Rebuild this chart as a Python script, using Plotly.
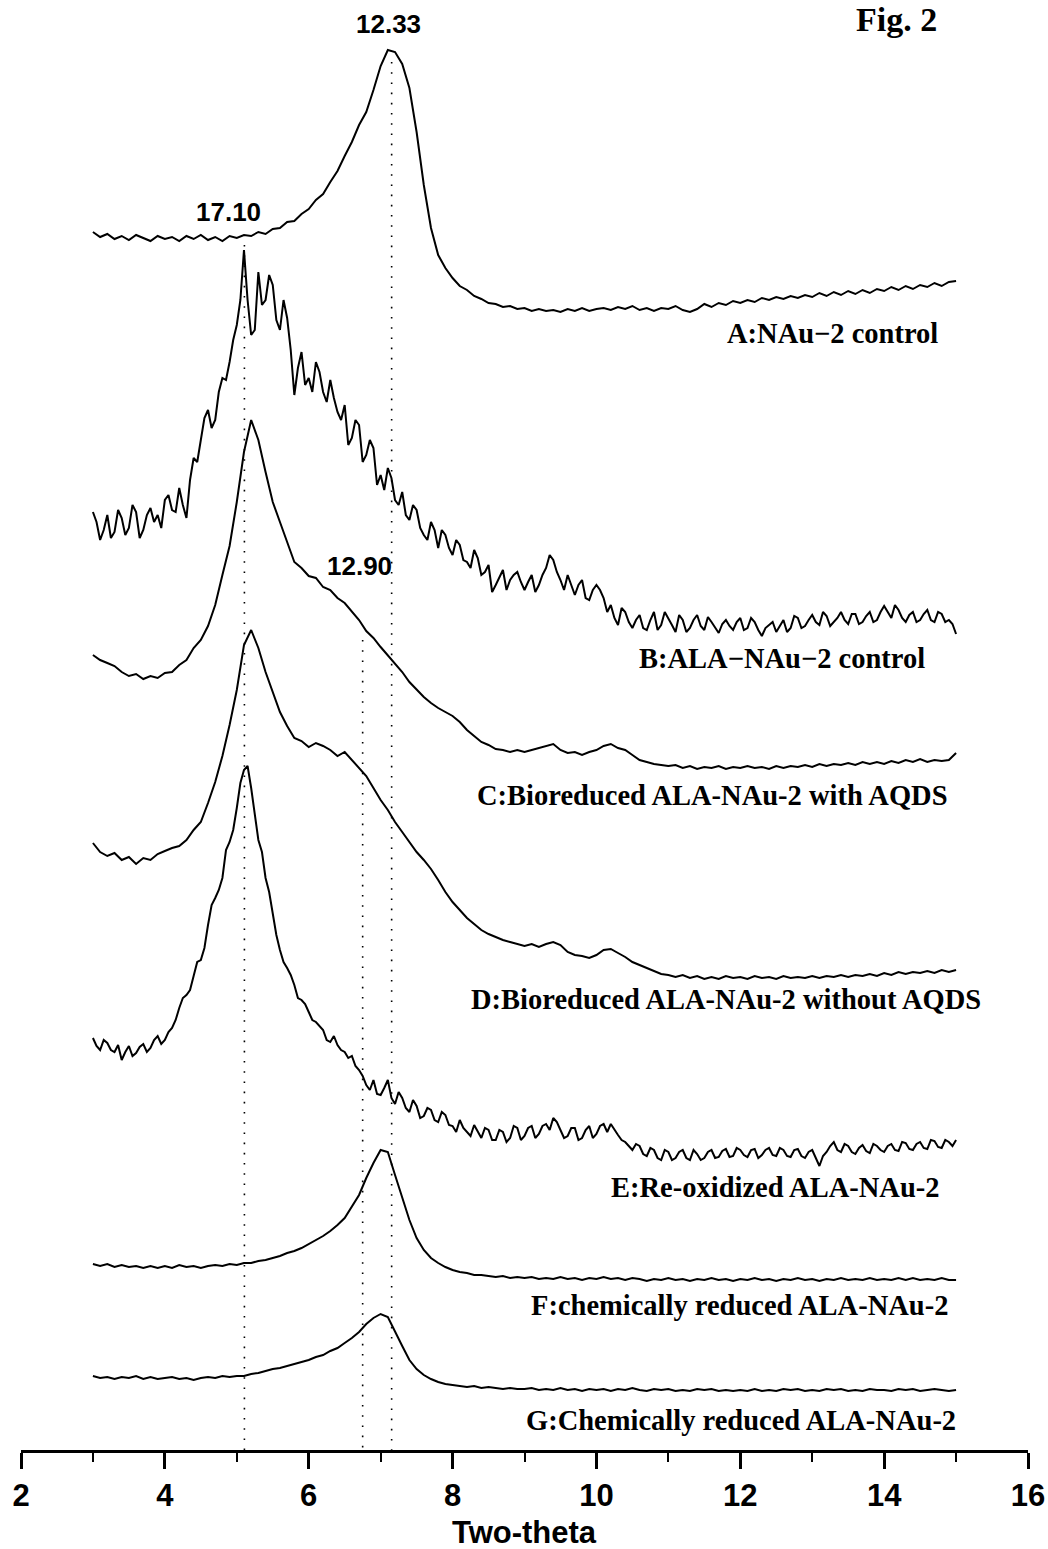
import plotly.graph_objects as go

# 2-theta sampling positions (degrees)
TWO_THETA = [
    3.0, 3.1, 3.2, 3.3, 3.4, 3.5, 3.6, 3.7, 3.8, 3.9,
    4.0, 4.1, 4.2, 4.3, 4.4, 4.5, 4.6, 4.7, 4.8, 4.9,
    5.0, 5.1, 5.2, 5.3, 5.4, 5.5, 5.6, 5.7, 5.8, 5.9,
    6.0, 6.1, 6.2, 6.3, 6.4, 6.5, 6.6, 6.7, 6.8, 6.9,
    7.0, 7.1, 7.2, 7.3, 7.4, 7.5, 7.6, 7.7, 7.8, 7.9,
    8.0, 8.1, 8.2, 8.3, 8.4, 8.5, 8.6, 8.7, 8.8, 8.9,
    9.0, 9.1, 9.2, 9.3, 9.4, 9.5, 9.6, 9.7, 9.8, 9.9,
    10.0, 10.1, 10.2, 10.3, 10.4, 10.5, 10.6, 10.7, 10.8, 10.9,
    11.0, 11.1, 11.2, 11.3, 11.4, 11.5, 11.6, 11.7, 11.8, 11.9,
    12.0, 12.1, 12.2, 12.3, 12.4, 12.5, 12.6, 12.7, 12.8, 12.9,
    13.0, 13.1, 13.2, 13.3, 13.4, 13.5, 13.6, 13.7, 13.8, 13.9,
    14.0, 14.1, 14.2, 14.3, 14.4, 14.5, 14.6, 14.7, 14.8, 14.9,
    15.0,
]
# extra in-between sampling positions used for the two noisiest scans
TWO_THETA_MID = [
    3.05, 3.15, 3.25, 3.35, 3.45, 3.55, 3.65, 3.75, 3.85, 3.95,
    4.05, 4.15, 4.25, 4.35, 4.45, 4.55, 4.65, 4.75, 4.85, 4.95,
    5.05, 5.15, 5.25, 5.35, 5.45, 5.55, 5.65, 5.75, 5.85, 5.95,
    6.05, 6.15, 6.25, 6.35, 6.45, 6.55, 6.65, 6.75, 6.85, 6.95,
    7.05, 7.15, 7.25, 7.35, 7.45, 7.55, 7.65, 7.75, 7.85, 7.95,
    8.05, 8.15, 8.25, 8.35, 8.45, 8.55, 8.65, 8.75, 8.85, 8.95,
    9.05, 9.15, 9.25, 9.35, 9.45, 9.55, 9.65, 9.75, 9.85, 9.95,
    10.05, 10.15, 10.25, 10.35, 10.45, 10.55, 10.65, 10.75, 10.85, 10.95,
    11.05, 11.15, 11.25, 11.35, 11.45, 11.55, 11.65, 11.75, 11.85, 11.95,
    12.05, 12.15, 12.25, 12.35, 12.45, 12.55, 12.65, 12.75, 12.85, 12.95,
    13.05, 13.15, 13.25, 13.35, 13.45, 13.55, 13.65, 13.75, 13.85, 13.95,
    14.05, 14.15, 14.25, 14.35, 14.45, 14.55, 14.65, 14.75, 14.85, 14.95,
]

# Stacked (offset) diffraction patterns.
# Units: stacking depth below the top of the frame (larger = lower / weaker).
A_NAU2 = [
    232, 237, 234, 239, 236, 240, 235, 238, 241, 236,
    239, 237, 241, 236, 239, 235, 240, 237, 241, 236,
    238, 235, 236, 232, 234, 229, 228, 222, 221, 214,
    209, 200, 194, 182, 171, 156, 142, 125, 112, 90,
    66, 50, 52, 64, 88, 132, 185, 228, 255, 268,
    278, 286, 290, 296, 299, 303, 304, 307, 306, 309,
    308, 311, 309, 311, 310, 312, 309, 311, 308, 311,
    309, 308, 310, 307, 309, 306, 310, 308, 311, 308,
    309, 306, 310, 312, 309, 304, 307, 303, 305, 301,
    303, 300, 302, 298, 300, 297, 299, 296, 298, 295,
    297, 293, 296, 292, 295, 291, 294, 290, 293, 289,
    291, 287, 290, 286, 289, 285, 287, 283, 286, 282,
    281,
]
B_ALA_NAU2 = [
    512, 540, 515, 532, 518, 528, 512, 530, 508, 515,
    500, 510, 488, 518, 458, 440, 410, 420, 378, 362,
    325, 250, 335, 272, 300, 285, 330, 318, 395, 352,
    378, 362, 392, 380, 412, 405, 438, 425, 455, 448,
    475, 468, 500, 492, 520, 510, 535, 522, 548, 535,
    555, 545, 562, 550, 575, 565, 585, 570, 580, 572,
    590, 575, 585, 568, 560, 580, 575, 595, 580, 600,
    585, 598, 605, 625, 612, 628, 615, 630, 612, 625,
    618, 632, 620, 628, 615, 630, 622, 633, 620, 630,
    618, 628, 622, 636, 625, 632, 620, 628, 618, 626,
    615, 625, 616, 622, 612, 624, 614, 622, 612, 620,
    606, 618, 610, 622, 612, 620, 610, 622, 614, 620,
    634,
]
B_ALA_NAU2_MID = [
    522, 530, 538, 510, 535, 505, 538, 515, 522, 528,
    495, 512, 505, 480, 462, 418, 428, 392, 380, 340,
    300, 300, 330, 305, 275, 320, 300, 350, 368, 385,
    392, 372, 402, 398, 420, 445, 420, 462, 440, 485,
    490, 478, 505, 515, 505, 528, 540, 530, 530, 548,
    540, 560, 568, 558, 572, 592, 578, 590, 575, 582,
    582, 592, 575, 555, 572, 590, 585, 585, 598, 590,
    590, 612, 618, 608, 622, 620, 628, 620, 630, 612,
    625, 615, 632, 620, 626, 617, 628, 624, 626, 622,
    630, 618, 630, 628, 622, 626, 632, 616, 628, 620,
    622, 612, 626, 618, 620, 614, 624, 616, 622, 612,
    612, 605, 618, 615, 622, 614, 620, 612, 622, 624,
]
C_BIORED_AQDS = [
    655, 660, 663, 666, 672, 676, 674, 679, 676, 678,
    673, 672, 665, 660, 648, 640, 626, 605, 575, 546,
    502, 452, 420, 440, 472, 502, 522, 542, 562, 568,
    576, 578, 587, 590, 598, 603, 611, 620, 631, 638,
    647, 655, 663, 672, 682, 690, 697, 703, 708, 712,
    716, 722, 730, 736, 742, 745, 749, 750, 752, 750,
    752, 750, 748, 746, 744, 750, 753, 752, 755, 752,
    750, 746, 744, 748, 750, 755, 760, 762, 764, 765,
    766, 765, 768, 766, 769, 767, 768, 766, 769, 767,
    768, 766, 768, 767, 769, 766, 768, 766, 767, 765,
    767, 764, 766, 764, 765, 763, 765, 762, 764, 762,
    764, 761, 763, 760, 762, 759, 762, 760, 761, 760,
    753,
]
D_BIORED_NO_AQDS = [
    843, 852, 856, 853, 860, 857, 864, 858, 860, 854,
    851, 848, 846, 840, 830, 822, 803, 782, 756, 725,
    690, 645, 630, 648, 672, 693, 712, 726, 738, 741,
    747, 743, 746, 750, 756, 752, 760, 767, 776, 788,
    800, 810, 822, 832, 842, 852, 860, 869, 880, 892,
    902, 910, 918, 924, 930, 934, 937, 940, 942, 944,
    946, 944, 947, 944, 942, 945, 952, 955, 956, 958,
    955, 950, 949, 953, 957, 962, 965, 968, 971, 974,
    975, 977, 975, 978, 976, 979, 977, 979, 976, 978,
    977, 979, 976, 978, 977, 979, 976, 978, 977, 978,
    976, 978, 976, 977, 975, 977, 975, 976, 974, 976,
    973, 975, 972, 974, 972, 973, 971, 973, 970, 972,
    970,
]
E_REOXIDIZED = [
    1038, 1050, 1043, 1052, 1060, 1046, 1053, 1044, 1048, 1036,
    1040, 1028, 1008, 995, 976, 960, 925, 898, 878, 842,
    808, 770, 788, 840, 878, 915, 950, 968, 985, 1000,
    1012, 1022, 1030, 1042, 1045, 1052, 1056, 1070, 1085, 1080,
    1095, 1080, 1104, 1098, 1112, 1106, 1116, 1110, 1122, 1115,
    1126, 1120, 1132, 1125, 1138, 1130, 1140, 1132, 1138, 1128,
    1136, 1126, 1134, 1124, 1118, 1130, 1136, 1128, 1138, 1126,
    1134, 1124, 1124, 1135, 1142, 1150, 1146, 1156, 1150, 1160,
    1152, 1158, 1150, 1160, 1154, 1158, 1150, 1157, 1149, 1156,
    1150, 1157, 1149, 1155, 1148, 1156, 1150, 1157, 1149, 1158,
    1150, 1166, 1152, 1142, 1152, 1146, 1154, 1145, 1153, 1146,
    1152, 1144, 1151, 1143, 1150, 1142, 1149, 1141, 1148, 1142,
    1140,
]
E_REOXIDIZED_MID = [
    1046, 1040, 1050, 1045, 1052, 1056, 1047, 1052, 1040, 1044,
    1032, 1020, 998, 990, 962, 948, 905, 890, 850, 830,
    783, 766, 815, 852, 892, 935, 962, 975, 998, 1004,
    1020, 1026, 1040, 1036, 1050, 1058, 1066, 1076, 1090, 1094,
    1088, 1098, 1092, 1108, 1100, 1118, 1108, 1120, 1112, 1125,
    1132, 1128, 1136, 1132, 1128, 1140, 1130, 1142, 1126, 1140,
    1128, 1138, 1126, 1130, 1122, 1138, 1128, 1140, 1130, 1138,
    1126, 1132, 1130, 1140, 1146, 1144, 1154, 1148, 1158, 1150,
    1160, 1152, 1158, 1150, 1160, 1152, 1158, 1151, 1157, 1148,
    1155, 1150, 1158, 1150, 1155, 1148, 1156, 1150, 1156, 1152,
    1158, 1156, 1146, 1150, 1144, 1152, 1148, 1151, 1144, 1150,
    1146, 1150, 1142, 1149, 1144, 1148, 1140, 1147, 1140, 1146,
]
F_CHEM_REDUCED = [
    1264, 1266, 1264, 1267, 1265, 1267, 1266, 1268, 1266, 1268,
    1266, 1268, 1265, 1267, 1266, 1268, 1266, 1265, 1266, 1264,
    1265, 1263, 1263, 1261, 1260, 1258, 1256, 1253, 1251, 1248,
    1244, 1240, 1236, 1231, 1225, 1218, 1207, 1195, 1178, 1163,
    1150, 1152, 1175, 1198, 1220, 1238, 1250, 1258, 1263, 1267,
    1270, 1272, 1273, 1275, 1275, 1276, 1277, 1276, 1278, 1277,
    1278, 1277, 1279, 1278, 1279, 1277, 1279, 1278, 1280, 1278,
    1279, 1277, 1279, 1278, 1280, 1278, 1279, 1281, 1279, 1280,
    1278, 1280, 1279, 1281, 1279, 1280, 1278, 1280, 1279, 1281,
    1279, 1280, 1278, 1280, 1279, 1281, 1279, 1280, 1278, 1280,
    1279, 1281, 1279, 1280, 1278, 1280, 1279, 1280, 1278, 1280,
    1279, 1280, 1278, 1280, 1278, 1280, 1279, 1280, 1278, 1280,
    1280,
]
G_CHEM_REDUCED = [
    1376, 1378, 1377, 1379, 1377, 1378, 1376, 1379, 1377, 1379,
    1378, 1377, 1379, 1378, 1380, 1378, 1377, 1378, 1376, 1377,
    1376, 1376, 1374, 1373, 1371, 1369, 1368, 1366, 1364, 1362,
    1360, 1357, 1355, 1351, 1348, 1343, 1338, 1332, 1324, 1318,
    1314, 1317, 1332, 1346, 1360, 1369, 1375, 1379, 1382, 1384,
    1385, 1386, 1387, 1386, 1388, 1387, 1388, 1389, 1388, 1389,
    1389, 1388, 1390, 1389, 1390, 1388, 1390, 1389, 1391, 1389,
    1390, 1389, 1391, 1389, 1390, 1388, 1390, 1391, 1389, 1390,
    1389, 1391, 1390, 1391, 1389, 1390, 1389, 1391, 1390, 1391,
    1390, 1391, 1389, 1391, 1390, 1391, 1389, 1390, 1389, 1391,
    1390, 1391, 1389, 1390, 1389, 1391, 1390, 1391, 1389, 1390,
    1390, 1391, 1389, 1390, 1389, 1391, 1390, 1389, 1390, 1391,
    1390,
]

SAMPLE_LABELS = [
    "A:NAu\u22122 control",
    "B:ALA\u2212NAu\u22122 control",
    "C:Bioreduced ALA-NAu-2 with AQDS",
    "D:Bioreduced ALA-NAu-2 without AQDS",
    "E:Re-oxidized ALA-NAu-2",
    "F:chemically reduced ALA-NAu-2",
    "G:Chemically reduced ALA-NAu-2",
]


def merged(main_vals, mid_vals=None):
    """Combine the main read-out with the in-between read-out (sorted by 2θ)."""
    if mid_vals is None:
        return TWO_THETA, main_vals
    pts = sorted(list(zip(TWO_THETA, main_vals)) + list(zip(TWO_THETA_MID, mid_vals)))
    return [p[0] for p in pts], [p[1] for p in pts]


SERIES = [
    merged(A_NAU2),
    merged(B_ALA_NAU2, B_ALA_NAU2_MID),
    merged(C_BIORED_AQDS),
    merged(D_BIORED_NO_AQDS),
    merged(E_REOXIDIZED, E_REOXIDIZED_MID),
    merged(F_CHEM_REDUCED),
    merged(G_CHEM_REDUCED),
]

# d-spacing reference lines (Å) and their 2-theta positions
D_SPACING = ["17.10", "12.90", "12.33"]
PEAK_2THETA = [5.106, 6.75, 7.153]
PEAK_LINE_TOP = [245, 640, 62]

FRAME_BOTTOM = 1450  # stacking depth of the 2-theta axis

fig = go.Figure()

for xp, top in zip(PEAK_2THETA, PEAK_LINE_TOP):
    fig.add_trace(go.Scatter(
        x=[xp, xp], y=[top, FRAME_BOTTOM], mode="lines",
        line=dict(color="black", width=1.6, dash="1.6px,8.6px"),
        showlegend=False, hoverinfo="skip"))

for name, (xs, ys) in zip(SAMPLE_LABELS, SERIES):
    fig.add_trace(go.Scatter(
        x=xs, y=ys, mode="lines", name=name,
        line=dict(color="black", width=2), showlegend=False))

serif = dict(family="Liberation Serif, Times New Roman, serif", size=28.5,
             color="black", weight="bold")
sans_peak = dict(family="Liberation Sans, Arial, sans-serif", size=26,
                 color="black", weight="bold")
sans_axis = dict(family="Liberation Sans, Arial, sans-serif", size=31,
                 color="black", weight="bold")

label_pos = [(14.77, 333), (14.60, 658), (14.92, 795), (15.37, 999),
             (14.81, 1187), (14.92, 1305), (15.02, 1420)]
for text, (lx, ly) in zip(SAMPLE_LABELS, label_pos):
    fig.add_annotation(x=lx, y=ly, xref="x", yref="y", text=text,
                       showarrow=False, xanchor="right", yanchor="middle",
                       font=serif)

peak_label_pos = [(4.88, 212), (6.71, 566), (7.11, 24)]
for text, (px_, py_) in zip(D_SPACING, peak_label_pos):
    fig.add_annotation(x=px_, y=py_, xref="x", yref="y", text=text,
                       showarrow=False, xanchor="center", yanchor="middle",
                       font=sans_peak)

# axis title (below the plotting frame, paper coordinates)
fig.add_annotation(x=0.5, y=-(1532 - FRAME_BOTTOM) / FRAME_BOTTOM,
                   xref="paper", yref="paper", text="Two-theta",
                   showarrow=False, xanchor="center", yanchor="middle",
                   font=sans_axis)

# figure tag at the top right corner
fig.add_annotation(x=(896 - 21) / 1007, y=1 - 19 / FRAME_BOTTOM,
                   xref="paper", yref="paper", text="Fig. 2",
                   showarrow=False, xanchor="center", yanchor="middle",
                   font=dict(family="Liberation Serif, Times New Roman, serif",
                             size=34, color="black", weight="bold"))

fig.update_layout(
    width=1048, height=1549,
    margin=dict(l=21, r=20, t=0, b=99),
    paper_bgcolor="white", plot_bgcolor="white",
    showlegend=False,
    xaxis=dict(
        range=[2, 16], showline=True, linecolor="black", linewidth=2.5,
        ticks="outside", ticklen=16, tickwidth=2.5, tickcolor="black",
        tick0=2, dtick=2, tickfont=sans_axis, showgrid=False, zeroline=False,
        minor=dict(dtick=1, ticks="outside", ticklen=9, tickwidth=2.2,
                   tickcolor="black", showgrid=False),
    ),
    yaxis=dict(range=[FRAME_BOTTOM, 0], visible=False, showgrid=False,
               zeroline=False),
)

fig.write_html("out.html",
               config={"displayModeBar": False},
               post_script="document.body.style.margin='0';"
                           "document.body.style.overflow='hidden';")
